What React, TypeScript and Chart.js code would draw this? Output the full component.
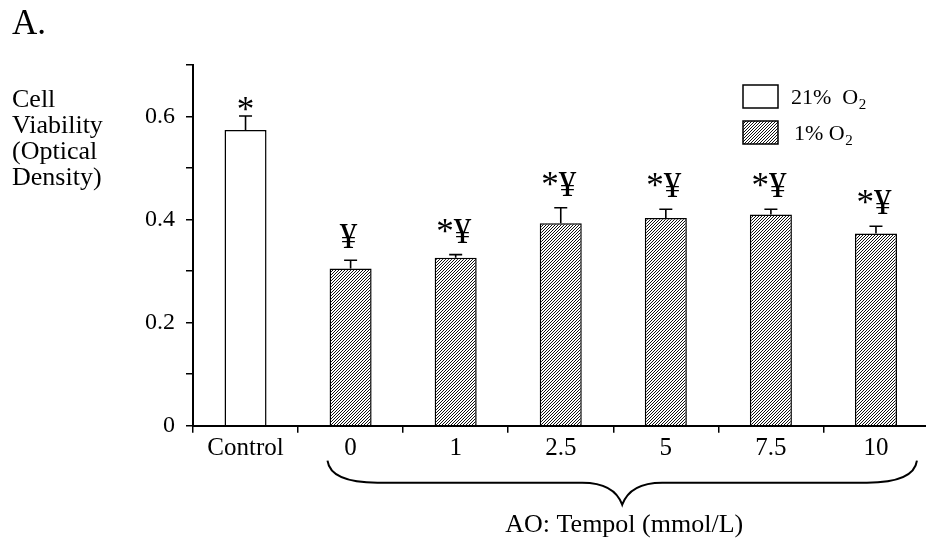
import React, { useEffect, useRef } from "react";
import { Chart, registerables } from "chart.js";

Chart.register(...registerables);

const categories = ["Control", "0", "1", "2.5", "5", "7.5", "10"];
const normoxiaValues = [0.574, null, null, null, null, null, null];
const hypoxiaValues = [null, 0.305, 0.326, 0.393, 0.403, 0.41, 0.373];
const errorValues = [0.027, 0.016, 0.006, 0.03, 0.017, 0.01, 0.014];
const sigLabels = ["*", "¥", "*¥", "*¥", "*¥", "*¥", "*¥"];
const yTickLabels = ["0", "0.2", "0.4", "0.6"];
const yTitleLines = ["Cell", "Viability", "(Optical", "Density)"];
const legendLabels = ["21%  O", "1% O"];
const panelLabel = "A.";
const xTitle = "AO: Tempol (mmol/L)";

const FONT = "'Liberation Serif', 'Times New Roman', serif";
const W = 932;
const H = 547;

function makeHatch(): CanvasPattern | string {
  const c = document.createElement("canvas");
  c.width = 3;
  c.height = 3;
  const g = c.getContext("2d");
  if (!g) return "#888";
  g.fillStyle = "#fff";
  g.fillRect(0, 0, 3, 3);
  g.strokeStyle = "#111";
  g.lineWidth = 1.0;
  g.beginPath();
  g.moveTo(0, 3);
  g.lineTo(3, 0);
  g.moveTo(-1, 1);
  g.lineTo(1, -1);
  g.moveTo(2, 4);
  g.lineTo(4, 2);
  g.stroke();
  const p = g.createPattern(c, "repeat");
  return p || "#888";
}

export default function App() {
  const ref = useRef<HTMLCanvasElement | null>(null);

  useEffect(() => {
    const canvas = ref.current;
    if (!canvas) return;
    const hatch = makeHatch();

    const overlay = {
      id: "overlay",
      afterDatasetsDraw(chart: any) {
        const ctx = chart.ctx;
        const xs = chart.scales.x;
        const ys = chart.scales.y;
        ctx.save();
        const values = categories.map((_, i) =>
          normoxiaValues[i] != null ? normoxiaValues[i] : hypoxiaValues[i]
        );
        values.forEach((v, i) => {
          if (v == null) return;
          const x = xs.getPixelForValue(i);
          const yb = ys.getPixelForValue(v);
          const yt = ys.getPixelForValue(v + errorValues[i]);
          ctx.strokeStyle = "#000";
          ctx.lineWidth = 1.6;
          ctx.beginPath();
          ctx.moveTo(x, yb);
          ctx.lineTo(x, yt);
          ctx.moveTo(x - 6.5, yt);
          ctx.lineTo(x + 6.5, yt);
          ctx.stroke();
          const lab = sigLabels[i];
          ctx.fillStyle = "#000";
          ctx.textAlign = "center";
          ctx.textBaseline = "alphabetic";
          ctx.font = `35px ${FONT}`;
          if (lab === "*") {
            ctx.fillText(lab, x, yt + 5);
          } else {
            ctx.fillText(lab, x - 2, yt - 12);
          }
        });
        ctx.restore();
      },
      afterDraw(chart: any) {
        const ctx = chart.ctx;
        const xs = chart.scales.x;
        const bottom = chart.chartArea.bottom;
        ctx.save();
        ctx.fillStyle = "#000";
        ctx.textBaseline = "alphabetic";
        ctx.textAlign = "left";
        ctx.font = `35px ${FONT}`;
        ctx.fillText(panelLabel, 12, 34);
        ctx.font = `26px ${FONT}`;
        yTitleLines.forEach((t, i) => ctx.fillText(t, 12, 107 + i * 26));
        const lx = 743;
        const boxes = [85, 121];
        boxes.forEach((by, i) => {
          ctx.fillStyle = i === 0 ? "#fff" : (hatch as any);
          ctx.fillRect(lx, by, 35, 23);
          ctx.strokeStyle = "#000";
          ctx.lineWidth = 1.5;
          ctx.strokeRect(lx, by, 35, 23);
          ctx.fillStyle = "#000";
          ctx.font = `22px ${FONT}`;
          const tx = i === 0 ? 791 : 794;
          const base = by + 19;
          ctx.fillText(legendLabels[i], tx, base);
          const w = ctx.measureText(legendLabels[i]).width;
          ctx.font = `15px ${FONT}`;
          ctx.fillText("2", tx + w + 0.5, base + 5);
        });
        const cat = xs.getPixelForValue(1) - xs.getPixelForValue(0);
        const L = xs.getPixelForValue(1) - 0.22 * cat;
        const R = xs.getPixelForValue(6) + 0.39 * cat;
        const M = (L + R) / 2;
        const y0 = bottom + 35;
        const y1 = bottom + 57;
        const y2 = bottom + 79;
        ctx.strokeStyle = "#000";
        ctx.lineWidth = 2;
        ctx.beginPath();
        ctx.moveTo(L, y0);
        ctx.quadraticCurveTo(L + 3, y1, L + 50, y1);
        ctx.lineTo(M - 40, y1);
        ctx.quadraticCurveTo(M - 8, y1, M, y2);
        ctx.quadraticCurveTo(M + 8, y1, M + 40, y1);
        ctx.lineTo(R - 50, y1);
        ctx.quadraticCurveTo(R - 3, y1, R, y0);
        ctx.stroke();
        ctx.textAlign = "center";
        ctx.font = `26px ${FONT}`;
        ctx.fillText(xTitle, M + 2, bottom + 106);
        ctx.restore();
      },
    };

    const chart = new Chart(canvas, {
      type: "bar",
      data: {
        labels: categories,
        datasets: [
          {
            label: "21% O2",
            data: normoxiaValues as any,
            backgroundColor: "#fff",
            borderColor: "#000",
            borderWidth: 1.5,
            grouped: false,
            barPercentage: 0.4,
            categoryPercentage: 1,
          },
          {
            label: "1% O2",
            data: hypoxiaValues as any,
            backgroundColor: hatch as any,
            borderColor: "#000",
            borderWidth: 1.5,
            grouped: false,
            barPercentage: 0.4,
            categoryPercentage: 1,
          },
        ],
      },
      options: {
        responsive: false,
        animation: false,
        devicePixelRatio: 1,
        layout: { padding: { left: 0, right: 3.5, top: 65, bottom: 0 } },
        plugins: {
          legend: { display: false },
          tooltip: { enabled: false },
          title: { display: false },
        },
        scales: {
          x: {
            type: "category",
            offset: true,
            grid: {
              offset: true,
              drawOnChartArea: false,
              drawTicks: true,
              tickLength: 7,
              color: "#000",
              lineWidth: 1.5,
            },
            border: { display: true, color: "#000", width: 2 },
            ticks: {
              color: "#000",
              font: { family: FONT, size: 25 },
              padding: 1,
              maxRotation: 0,
              autoSkip: false,
            },
            afterFit(scale: any) {
              scale.height = 121.3;
            },
          },
          y: {
            min: 0,
            max: 0.7,
            grid: {
              drawOnChartArea: false,
              drawTicks: true,
              tickLength: 7,
              color: "#000",
              lineWidth: 1.5,
            },
            border: { display: true, color: "#000", width: 2 },
            ticks: {
              stepSize: 0.1,
              color: "#000",
              font: { family: FONT, size: 24 },
              padding: 11,
              callback: (v: any) => {
                const r = Math.round(Number(v) * 10);
                return r % 2 === 0 && r / 2 < yTickLabels.length ? yTickLabels[r / 2] : "";
              },
            },
            afterFit(scale: any) {
              scale.width = 193;
            },
          },
        },
      },
      plugins: [overlay],
    });

    return () => chart.destroy();
  }, []);

  return (
    <div style={{ position: "fixed", left: 0, top: 0, width: W, height: H, background: "#fff" }}>
      <canvas ref={ref} width={W} height={H} style={{ display: "block", width: W, height: H }} />
    </div>
  );
}
